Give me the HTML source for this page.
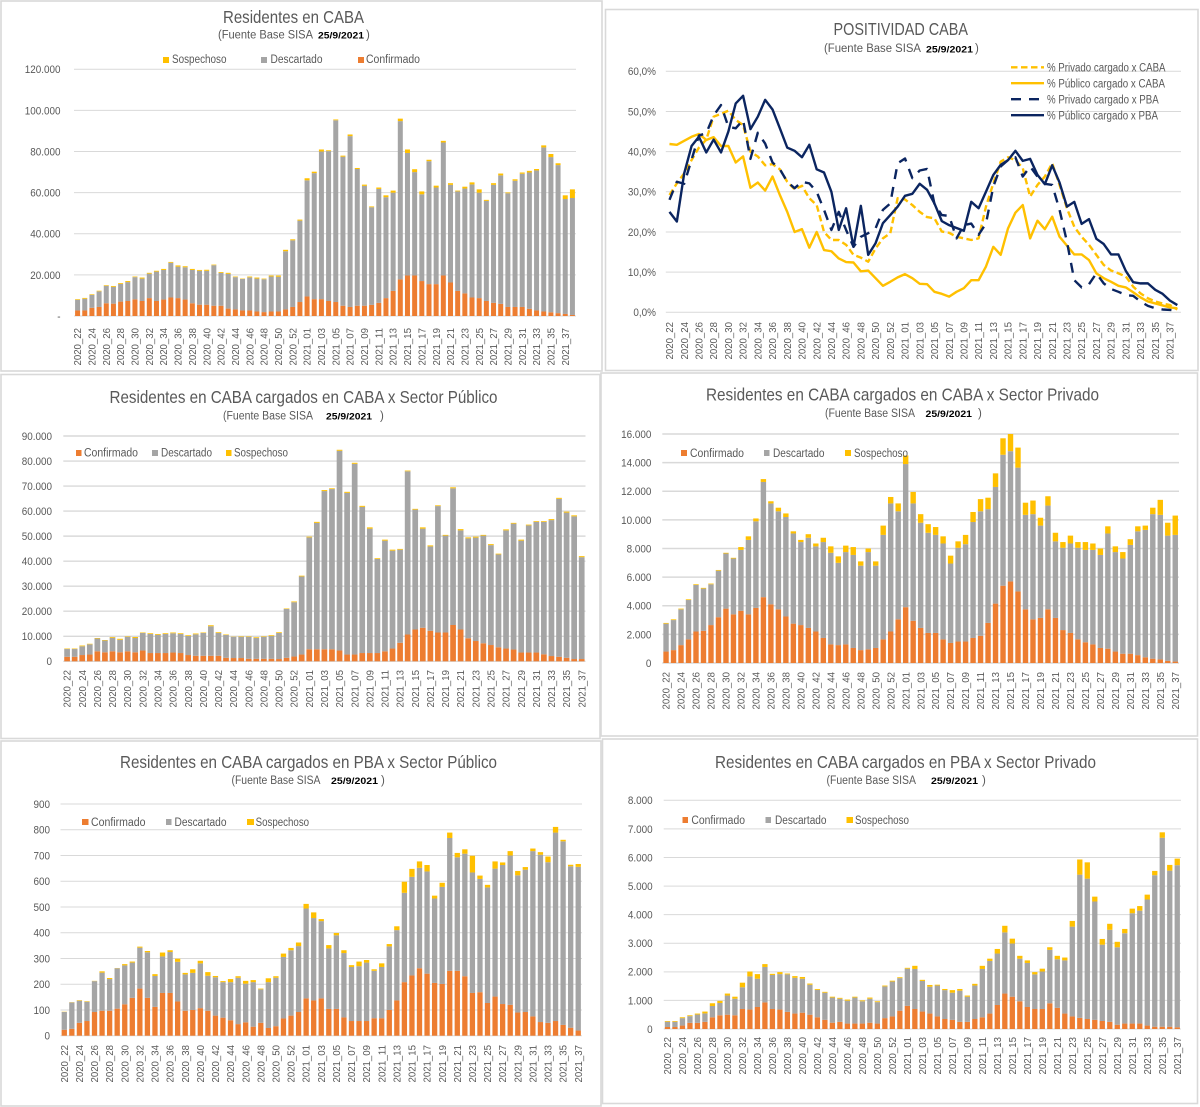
<!DOCTYPE html>
<html lang="es">
<head>
<meta charset="utf-8">
<title>Residentes en CABA - Fuente Base SISA</title>
<style>
html,body{margin:0;padding:0;background:#fff;}
body{width:1200px;height:1107px;overflow:hidden;}
svg{display:block;filter:blur(0.35px);font-family:"Liberation Sans",sans-serif;}
.panel{fill:#fff;stroke:#d9d9d9;stroke-width:1.6;}
.title{fill:#595959;font-size:17.5px;}
.sub{fill:#595959;font-size:11.5px;}
.date{fill:#000;font-size:9.5px;font-weight:bold;}
.leg{fill:#595959;font-size:11.5px;}
.tick{fill:#595959;font-size:11px;}
.xt{fill:#595959;font-size:10.5px;}
</style>
</head>
<body>
<svg id="dashboard" xmlns="http://www.w3.org/2000/svg" width="1200" height="1107" viewBox="0 0 1200 1107">
  <rect class="panel" x="1" y="1" width="601" height="370"/>
  <rect class="panel" x="605.5" y="9.5" width="592.5" height="361"/>
  <rect class="panel" x="1" y="374.5" width="599" height="364"/>
  <rect class="panel" x="601" y="373" width="596.5" height="363"/>
  <rect class="panel" x="1" y="741" width="600" height="365"/>
  <rect class="panel" x="602.5" y="739" width="595" height="364.5"/>

  <g id="plots"></g>

  <!-- Chart 1 -->
  <g>
    <text class="title" x="223" y="23" textLength="141" lengthAdjust="spacingAndGlyphs">Residentes en CABA</text>
    <text class="sub" x="218" y="38.5" textLength="95" lengthAdjust="spacingAndGlyphs">(Fuente  Base SISA</text>
    <text class="date" x="318" y="38.5" textLength="46" lengthAdjust="spacingAndGlyphs">25/9/2021</text>
    <text class="sub" x="366" y="38.5">)</text>
  </g>
  <g>
    <rect x="163" y="57" width="6" height="6" fill="#ffc000"/>
    <text class="leg" x="172" y="63" textLength="54.5" lengthAdjust="spacingAndGlyphs">Sospechoso</text>
    <rect x="261" y="57" width="6" height="6" fill="#a5a5a5"/>
    <text class="leg" x="270.5" y="63" textLength="52" lengthAdjust="spacingAndGlyphs">Descartado</text>
    <rect x="358" y="57" width="6" height="6" fill="#ed7d31"/>
    <text class="leg" x="366" y="63" textLength="54" lengthAdjust="spacingAndGlyphs">Confirmado</text>
  </g>

  <!-- Chart 2 -->
  <g>
    <text class="title" x="833.5" y="35" textLength="134.5" lengthAdjust="spacingAndGlyphs">POSITIVIDAD CABA</text>
    <text class="sub" x="824" y="52" textLength="97" lengthAdjust="spacingAndGlyphs">(Fuente Base SISA</text>
    <text class="date" x="926" y="52.5" textLength="47" lengthAdjust="spacingAndGlyphs">25/9/2021</text>
    <text class="sub" x="975" y="52">)</text>
  </g>
  <g>
    <line x1="1011" x2="1044" y1="67.3" y2="67.3" stroke="#ffc000" stroke-width="2.4" stroke-dasharray="6.5 3.5"/>
    <text class="leg" x="1047" y="71.3" textLength="118.5" lengthAdjust="spacingAndGlyphs">% Privado cargado x CABA</text>
    <line x1="1011" x2="1044" y1="83.2" y2="83.2" stroke="#ffc000" stroke-width="2.4"/>
    <text class="leg" x="1047" y="87.3" textLength="118" lengthAdjust="spacingAndGlyphs">% Público cargado x CABA</text>
    <line x1="1011" x2="1044" y1="99.2" y2="99.2" stroke="#0b2560" stroke-width="2.4" stroke-dasharray="10 8"/>
    <text class="leg" x="1047" y="103.3" textLength="111.7" lengthAdjust="spacingAndGlyphs">% Privado cargado x PBA</text>
    <line x1="1011" x2="1044" y1="115.2" y2="115.2" stroke="#0b2560" stroke-width="2.4"/>
    <text class="leg" x="1047" y="119.3" textLength="111" lengthAdjust="spacingAndGlyphs">% Público cargado x PBA</text>
  </g>

  <!-- Chart 3 -->
  <g>
    <text class="title" x="109.5" y="403" textLength="388" lengthAdjust="spacingAndGlyphs">Residentes en CABA cargados en CABA x Sector Público</text>
    <text class="sub" x="223" y="419.5" textLength="90" lengthAdjust="spacingAndGlyphs">(Fuente  Base SISA</text>
    <text class="date" x="326" y="419.5" textLength="46" lengthAdjust="spacingAndGlyphs">25/9/2021</text>
    <text class="sub" x="380" y="419.5">)</text>
  </g>
  <g>
    <rect x="76" y="450" width="5.5" height="6" fill="#ed7d31"/>
    <text class="leg" x="84" y="456.7" textLength="54" lengthAdjust="spacingAndGlyphs">Confirmado</text>
    <rect x="152" y="450" width="6" height="6" fill="#a5a5a5"/>
    <text class="leg" x="161" y="456.7" textLength="51" lengthAdjust="spacingAndGlyphs">Descartado</text>
    <rect x="226" y="450" width="5.5" height="6" fill="#ffc000"/>
    <text class="leg" x="234" y="456.7" textLength="54" lengthAdjust="spacingAndGlyphs">Sospechoso</text>
  </g>

  <!-- Chart 4 -->
  <g>
    <text class="title" x="706" y="400.5" textLength="393" lengthAdjust="spacingAndGlyphs">Residentes en CABA cargados en CABA x Sector Privado</text>
    <text class="sub" x="825" y="417" textLength="90" lengthAdjust="spacingAndGlyphs">(Fuente  Base SISA</text>
    <text class="date" x="925.5" y="417" textLength="46.5" lengthAdjust="spacingAndGlyphs">25/9/2021</text>
    <text class="sub" x="978" y="417">)</text>
  </g>
  <g>
    <rect x="681" y="450" width="6" height="6" fill="#ed7d31"/>
    <text class="leg" x="690" y="457" textLength="54" lengthAdjust="spacingAndGlyphs">Confirmado</text>
    <rect x="764" y="450" width="5.5" height="6" fill="#a5a5a5"/>
    <text class="leg" x="773" y="457" textLength="51.5" lengthAdjust="spacingAndGlyphs">Descartado</text>
    <rect x="845" y="450" width="6" height="6" fill="#ffc000"/>
    <text class="leg" x="854" y="457" textLength="54" lengthAdjust="spacingAndGlyphs">Sospechoso</text>
  </g>

  <!-- Chart 5 -->
  <g>
    <text class="title" x="120" y="768" textLength="377" lengthAdjust="spacingAndGlyphs">Residentes en CABA cargados en PBA x Sector Público</text>
    <text class="sub" x="231.5" y="784" textLength="89" lengthAdjust="spacingAndGlyphs">(Fuente  Base SISA</text>
    <text class="date" x="331" y="784" textLength="47" lengthAdjust="spacingAndGlyphs">25/9/2021</text>
    <text class="sub" x="381" y="784">)</text>
  </g>
  <g>
    <rect x="82" y="819" width="6.5" height="6" fill="#ed7d31"/>
    <text class="leg" x="91" y="826" textLength="54.5" lengthAdjust="spacingAndGlyphs">Confirmado</text>
    <rect x="166" y="819" width="5.5" height="6" fill="#a5a5a5"/>
    <text class="leg" x="174.5" y="826" textLength="52" lengthAdjust="spacingAndGlyphs">Descartado</text>
    <rect x="247" y="819" width="7" height="6" fill="#ffc000"/>
    <text class="leg" x="255.6" y="826" textLength="53.5" lengthAdjust="spacingAndGlyphs">Sospechoso</text>
  </g>

  <!-- Chart 6 -->
  <g>
    <text class="title" x="715" y="768" textLength="381" lengthAdjust="spacingAndGlyphs">Residentes en CABA cargados en PBA x Sector Privado</text>
    <text class="sub" x="826.5" y="784" textLength="89.5" lengthAdjust="spacingAndGlyphs">(Fuente  Base SISA</text>
    <text class="date" x="931" y="784" textLength="47" lengthAdjust="spacingAndGlyphs">25/9/2021</text>
    <text class="sub" x="982" y="784">)</text>
  </g>
  <g>
    <rect x="682.5" y="817" width="5.5" height="6" fill="#ed7d31"/>
    <text class="leg" x="691.4" y="824" textLength="53.6" lengthAdjust="spacingAndGlyphs">Confirmado</text>
    <rect x="765.5" y="817" width="5.5" height="6" fill="#a5a5a5"/>
    <text class="leg" x="775" y="824" textLength="51.5" lengthAdjust="spacingAndGlyphs">Descartado</text>
    <rect x="846.5" y="817" width="6.5" height="6" fill="#ffc000"/>
    <text class="leg" x="855" y="824" textLength="54" lengthAdjust="spacingAndGlyphs">Sospechoso</text>
  </g>
</svg>

<script>
// Categories (epidemiological weeks)
var weeks = ["2020_22","2020_23","2020_24","2020_25","2020_26","2020_27","2020_28","2020_29","2020_30","2020_31","2020_32","2020_33","2020_34","2020_35","2020_36","2020_37","2020_38","2020_39","2020_40","2020_41","2020_42","2020_43","2020_44","2020_45","2020_46","2020_47","2020_48","2020_49","2020_50","2020_51","2020_52","2020_53","2021_01","2021_02","2021_03","2021_04","2021_05","2021_06","2021_07","2021_08","2021_09","2021_10","2021_11","2021_12","2021_13","2021_14","2021_15","2021_16","2021_17","2021_18","2021_19","2021_20","2021_21","2021_22","2021_23","2021_24","2021_25","2021_26","2021_27","2021_28","2021_29","2021_30","2021_31","2021_32","2021_33","2021_34","2021_35","2021_36","2021_37","2021_38"];

// Chart 1: Residentes en CABA (thousands)
var c1Confirmado = [2.7,2.7,4,4.4,6.2,6,7,7.3,8.1,7.3, 8.7,7.3,8,9,8.7,8,6.2,5.5,5.5,5, 5,3.6,3.2,2.7,2.7,2.2,1.9,2.2,2.2,3.2, 4.4,6.8,9.5,8.2,8.2,7.3,6.8,5,4.4,5, 5,5.4,6.4,8.7,12.2,17.8,19.7,19.7,17,15.5, 15.5,19.7,16.3,12.2,11,9,8.7,7.3,6.4,5.9, 4.4,4.4,4.4,3.5,2.7,2.2,1.8,1.4,1,0.5];
var c1Descartado = [5.2,5.7,6.3,7.6,8.5,8.2,8.6,9.2,10.8,10.9, 11.9,14.3,14.4,16.9,15.3,15.7,16.2,16.5,16.5,19.7, 16,16.9,15.7,15.3,16.1,16,16,17,16.9,28.3, 32.4,39.6,56.5,61.3,71.8,72.9,88.4,72.5,83.1,66.5, 58.3,47.5,55.4,49.1,47.8,77,59.6,50.3,42.2,59.8, 47,64.7,47.5,48.4,51,55,51.3,48.7,57.4,62.5, 55.3,61.4,64.8,66.3,68.1,79.8,75.5,72,55.9,56.9];
var c1Sospechoso = [.3,.4,.3,.3,.3,.4,.4,.5,.3,.5, .4,.4,.5,.4,.6,.5,.5,.4,.5,.3, .4,.5,.3,.2,.4,.5,.3,.5,.6,.7, .5,.5,1,.7,1,.4,.4,.5,.8,.5, .6,.4,.7,.9,1,1.2,1.7,1.4,1.4,.7, .9,.8,.8,.4,.9,1,1.6,.5,.8,.9, .4,.7,.6,.8,.7,1,1.5,.9,1.8,4.2];
var c1TickLabels = ["-","20.000","40.000","60.000","80.000","100.000","120.000"];
var c1TickValues = [0,20,40,60,80,100,120];

// Chart 2: Positividad (percent)
var privadoCaba = [29.2,32.1,34.6,37.9,41,43,48.7,49.4,50.2,47.9, 46.6,40,38.8,36.6,36.9,35.6,32.5,30.6,31.5,28.4, 26.7,20,18,18,16.8,14.3,13.6,12.6,15.9,18.4, 19.7,28.4,28.1,26.7,25,23.7,23.4,20.1,19.8,18.8, 18.4,18,18.4,26.3,32.1,37.5,38.6,37.9,35.9,28.8, 31.7,33.8,37.1,31.7,25.9,21.3,18.8,16.8,14.3,11.8, 10.4,9.7,8.9,6.4,4.7,3.5,2.7,2.2,1.8,0.7];
var publicoCaba = [41.9,41.7,42.7,43.7,44.4,42.9,43.6,41.4,41.4,37.3, 38.8,31,32.3,30.3,33.8,29.2,25,20,20.7,16.1, 20,15.5,15.2,13.4,12.5,12.4,10.2,10.4,8.5,6.6, 7.6,8.7,9.5,8.5,7.1,7,5.1,4.6,3.9,5.1, 6,8,8,11.4,16.3,14.3,20.9,24.8,26.7,18.4, 22.8,20.7,23.8,18.8,16.6,14.4,14.4,13,9.7,8.5, 7.6,6.6,6.2,5,3.7,2.7,2.2,1.7,1.2,1];
var privadoPba = [28,32.5,32,38,44,44.6,49,51.6,46.2,45.8, 47.9,38.2,44.7,42,37.3,35.6,32.5,30.9,32.5,32.1, 30,25.5,20.5,25,20.5,16.3,18.8,19.7,20.9,25.5, 27.1,37.1,38.3,33.4,35.3,35.7,27,24.2,24,18.4, 21.7,22.1,19.3,22.1,31.3,36.3,37.9,38.6,33.8,36.3, 33.8,32,31.7,25.5,17.6,8,6.2,7,9.7,7.2, 5.8,5.1,4.3,4.1,2.7,1.6,1,0.7,0.6,0.4];
var publicoPba = [25,22.6,34.6,41.4,43.7,39.8,43,39.8,45,52, 53.9,45.6,48.7,52.9,50.5,45.8,41,40.2,38.6,41.7, 35.6,34.8,30,20.5,25.9,16.3,26.5,14.3,17.2,22.2, 24.2,26.3,29,29.5,32,30.5,27.1,22.7,21.7,21, 20.3,27.5,25.9,30,34.2,36.7,37.9,40.2,37.7,38.2, 34.2,31.9,36.6,32.3,26.3,27.5,22,23.2,18.3,17, 14.4,14.4,10.3,7.5,7.2,7.2,5.6,4.6,2.9,1.8];
var c2TickLabels = ["0,0%","10,0%","20,0%","30,0%","40,0%","50,0%","60,0%"];
var c2TickValues = [0,10,20,30,40,50,60];

// Chart 3: CABA x Sector Público (thousands)
var c3Confirmado = [1.8,1.8,2.5,2.7,4,3.6,4,3.6,4,3.6, 4.3,3.3,3.3,3.3,3.5,3.3,2.5,2.2,2.2,2.2, 2.2,1.4,1.3,1.3,1,1,1,1,.9,1.4, 1.9,2.7,4.8,4.8,4.8,4.8,4.3,2.7,2.7,3.3, 3.3,3.3,4,5.1,7.4,10.7,12.7,13.4,12.2,11.5, 11.5,14.5,12.7,9.2,8.1,7.2,6.5,5.6,5.1,4.7, 3.5,3.5,3.5,2.8,2.1,1.8,1.4,.9,.9];
var c3Descartado = [3.1,3.1,3.5,4.1,5.1,4.7,5.4,5,5.8,5.7, 7,7.6,7.3,7.6,7.7,7.6,7.6,8.6,9.1,11.8, 9.1,9.1,8.5,8.5,8.8,8.3,8.8,9.1,10.4,19.5, 21.7,31.2,44.7,50.5,63.2,64,79.8,64.6,76.2,58.4, 49.7,37.6,44.2,39.1,37.2,65.2,47.9,39.6,33.7,50.5, 38.7,54.6,39.6,39.9,41.3,43,39.9,37.1,47.2,50.3, 44.7,50.8,52.2,52.9,54.3,63.1,58,57,40.7];
var c3Sospechoso = [.2,.2,.3,.2,.2,.2,.3,.4,.2,.4, .2,.3,.3,.3,.3,.3,.3,.3,.2,.4, .3,.2,.1,.2,.2,.3,.2,.3,.3,.2, .3,.3,.3,.4,.4,.3,.4,.4,.4,.4, .5,.3,.4,.4,.3,.3,.3,.5,.4,.3, .3,.4,.5,.4,.4,.3,.4,.3,.4,.3, .4,.3,.3,.3,.4,.4,.4,.4,.4];
var c3TickLabels = ["0","10.000","20.000","30.000","40.000","50.000","60.000","70.000","80.000","90.000"];
var c3TickValues = [0,10,20,30,40,50,60,70,80,90];

// Chart 4: CABA x Sector Privado (thousands)
var c4Confirmado = [.8,.9,1.25,1.65,2.2,2.25,2.65,3.2,3.8,3.4, 3.65,3.4,3.85,4.6,4.1,3.75,3.25,2.75,2.65,2.45, 2.2,1.75,1.3,1.25,1.3,1.05,.9,.95,1.05,1.65, 2.2,3.05,3.9,2.95,2.45,2.1,2.1,1.65,1.4,1.5, 1.5,1.75,1.9,2.8,4.15,5.4,5.7,5,3.75,3.05, 3.15,3.75,3.15,2.3,2.1,1.65,1.45,1.3,1.05,1, .8,.65,.65,.55,.4,.3,.25,.15,.1];
var c4Descartado = [1.95,2.1,2.5,2.75,3.25,2.95,2.85,3.25,3.85,3.9, 4.25,5.2,6.05,8.05,7.05,6.85,6.95,6.3,5.8,6.3, 5.95,6.7,6.4,5.75,6.45,6.5,5.9,6.8,5.75,7.3, 8.95,7.55,10,8.2,7.35,7,6.85,6.7,5.55,6.55, 6.8,8.1,8.7,7.95,8.15,9.15,9.1,8.65,6.6,7.35, 6.45,7.25,5.35,5.75,6.25,6.4,6.45,6.6,6.5,8.05, 6.95,6.65,7.6,8.65,8.9,10.1,10.1,8.75,8.85];
var c4Sospechoso = [.05,.05,.05,.05,.05,.05,.05,.05,.05,.05, .2,.25,.2,.2,.15,.25,.25,.15,.15,.25, .2,.3,.45,.45,.45,.55,.3,.25,.3,.65, .45,.55,.6,.8,.6,.6,.55,.5,.55,.45, .65,.7,.85,.8,.95,1.15,1.2,1.4,.85,.95, .55,.65,.6,.4,.55,.4,.55,.45,.45,.5, .4,.45,.4,.35,.3,.45,1.05,.9,1.35];
var c4TickLabels = ["0","2.000","4.000","6.000","8.000","10.000","12.000","14.000","16.000"];
var c4TickValues = [0,2,4,6,8,10,12,14,16];

// Chart 5: PBA x Sector Público
var c5Confirmado = [23,27,50,57,92,97,97,105,122,147, 183,147,112,166,166,133,97,100,107,97, 78,70,60,45,52,35,50,30,37,67, 78,92,145,137,145,104,104,71,57,57, 57,68,68,100,137,208,234,262,241,205, 201,252,252,231,166,169,127,152,123,120, 90,92,75,53,50,57,42,31,20];
var c5Descartado = [69,102,86,75,120,148,123,157,151,137, 159,177,120,142,159,154,141,144,174,136, 149,138,148,180,150,173,130,178,188,239, 254,256,349,320,300,235,286,250,210,213, 227,184,199,247,273,347,383,390,397,328, 377,516,441,476,468,440,449,497,540,580, 533,553,642,650,624,732,713,627,636];
var c5Sospechoso = [1,1,2,2,1,5,4,1,5,4, 4,5,7,15,7,12,6,14,10,14, 5,4,12,6,11,8,3,15,6,13, 9,14,18,22,8,13,9,11,7,18, 10,6,14,9,15,43,31,25,25,11, 16,21,17,17,65,13,10,28,10,17, 17,10,10,10,22,22,6,6,11];
var c5TickLabels = ["0","100","200","300","400","500","600","700","800","900"];
var c5TickValues = [0,100,200,300,400,500,600,700,800,900];

// Chart 6: PBA x Sector Privado
var c6Confirmado = [70,70,120,215,215,250,410,480,500,480, 700,680,770,930,700,680,600,540,570,500, 410,320,220,250,190,190,190,220,190,380, 440,640,810,700,610,540,440,350,320,250, 250,350,410,540,840,1240,1130,970,770,700, 700,900,740,540,440,390,350,320,280,250, 150,190,190,190,120,80,80,80,60];
var c6Descartado = [185,185,260,235,290,295,395,430,670,580, 760,1160,990,1240,1190,1240,1310,1250,1190,1050, 960,950,880,810,800,910,780,840,750,1110, 1220,1140,1300,1400,1070,940,1080,1010,950,1090, 880,1170,1690,1840,1800,2140,1860,1490,1540,1210, 1310,1870,1700,1860,3140,5010,4910,4140,2670,3220, 2710,3160,3860,3950,4410,5300,6610,5460,5670];
var c6Sospechoso = [25,25,30,30,35,65,95,75,70,70, 160,170,160,100,40,70,30,60,60,40, 30,30,30,30,40,30,30,40,30,30, 30,30,30,110,40,60,30,40,90,60, 40,60,110,80,160,230,170,100,90,80, 100,90,120,100,200,530,570,170,200,210, 190,150,160,160,170,150,190,200,230];
var c6TickLabels = ["0","1.000","2.000","3.000","4.000","5.000","6.000","7.000","8.000"];
var c6TickValues = [0,1000,2000,3000,4000,5000,6000,7000,8000];

var NS = "http://www.w3.org/2000/svg";
var plots = document.getElementById("plots");

function node(tag, parent) {
  var el = document.createElementNS(NS, tag);
  parent.appendChild(el);
  return el;
}

// Builds x and y axis functions for a plot frame
function makeScales(f, n, maxV) {
  var step = (f.right - f.left) / n;
  return {
    step: step,
    x: function (i) { return f.left + (i + 0.5) * step; },
    y: function (v) { return f.base - (v / maxV) * (f.base - f.top); }
  };
}

function drawAxes(g, f, s, cats, tickValues, tickLabels) {
  tickValues.forEach(function (v, k) {
    var line = node("line", g);
    
    
    line.setAttribute("x1", f.left);
    line.setAttribute("x2", f.right);
    line.setAttribute("y1", s.y(v));
    line.setAttribute("y2", s.y(v));
    line.setAttribute("stroke", "#d9d9d9");
    line.setAttribute("stroke-width", f.grid);
    var t = node("text", g);
    
    
    t.setAttribute("class", "tick");
    t.setAttribute("x", f.tickX);
    t.setAttribute("y", s.y(v) + 3.9);
    t.setAttribute("text-anchor", "end");
    t.textContent = tickLabels[k];
    t.setAttribute("lengthAdjust", "spacingAndGlyphs");
    t.setAttribute("textLength", (t.getComputedTextLength() * 0.9).toFixed(2));
  });
  cats.forEach(function (c, i) {
    if (i % 2 !== 0) return;
    var t = node("text", g);
    
    
    t.setAttribute("class", "xt");
    var lx = s.x(i) + 3.6;
    t.setAttribute("x", lx);
    t.setAttribute("y", f.labelTop);
    t.setAttribute("text-anchor", "end");
    t.setAttribute("transform", "rotate(-90 " + lx + " " + f.labelTop + ")");
    t.setAttribute("lengthAdjust", "spacingAndGlyphs");
    t.setAttribute("textLength", "37.5");
    t.textContent = c;
  });
}

function drawStacked(name, f, cats, confirmado, descartado, sospechoso, maxV, tickValues, tickLabels) {
  var g = node("g", plots);
  
  
  var s = makeScales(f, cats.length, maxV);
  drawAxes(g, f, s, cats, tickValues, tickLabels);
  var colors = ["#ed7d31", "#a5a5a5", "#ffc000"];
  cats.forEach(function (c, i) {
    var acc = 0;
    [confirmado[i], descartado[i], sospechoso[i]].forEach(function (v, k) {
      var r = node("rect", g);
      
      
      r.setAttribute("x", s.x(i) - f.bar / 2);
      r.setAttribute("width", f.bar);
      r.setAttribute("y", s.y(acc + v));
      r.setAttribute("height", s.y(acc) - s.y(acc + v));
      r.setAttribute("fill", colors[k]);
      acc += v;
    });
  });
}

function drawLine(g, s, values, color, dash) {
  var d = values.map(function (v, i) {
    return (i ? "L" : "M") + s.x(i).toFixed(2) + " " + s.y(v).toFixed(2);
  }).join(" ");
  var p = node("path", g);
  
  
  p.setAttribute("d", d);
  p.setAttribute("fill", "none");
  p.setAttribute("stroke", color);
  p.setAttribute("stroke-width", "2.4");
  p.setAttribute("stroke-linejoin", "round");
  if (dash) p.setAttribute("stroke-dasharray", dash);
}

drawStacked("chart-residentes-caba",
  {left: 74, right: 576, top: 69.3, base: 316, tickX: 60.5, labelTop: 328, bar: 5, grid: 1},
  weeks, c1Confirmado, c1Descartado, c1Sospechoso, 120, c1TickValues, c1TickLabels);

(function () {
  var f = {left: 665.8, right: 1181, top: 71.3, base: 312.3, tickX: 656, labelTop: 322, grid: 1};
  var g = node("g", plots);
  
  
  var s = makeScales(f, weeks.length, 60);
  drawAxes(g, f, s, weeks, c2TickValues, c2TickLabels);
  drawLine(g, s, privadoCaba, "#ffc000", "6.5 3.5");
  drawLine(g, s, publicoCaba, "#ffc000", null);
  drawLine(g, s, privadoPba, "#0b2560", "10 8");
  drawLine(g, s, publicoPba, "#0b2560", null);
})();

var weeks69 = weeks.slice(0, 69);

drawStacked("chart-caba-publico",
  {left: 63.3, right: 585.5, top: 436, base: 661.3, tickX: 52, labelTop: 670, bar: 5.7, grid: 1.4},
  weeks69, c3Confirmado, c3Descartado, c3Sospechoso, 90, c3TickValues, c3TickLabels);

drawStacked("chart-caba-privado",
  {left: 662.3, right: 1179, top: 434, base: 663, tickX: 651.4, labelTop: 672, bar: 5.4, grid: 1.4},
  weeks69, c4Confirmado, c4Descartado, c4Sospechoso, 16, c4TickValues, c4TickLabels);

drawStacked("chart-pba-publico",
  {left: 60.5, right: 582, top: 804, base: 1035.7, tickX: 50, labelTop: 1045, bar: 5.3, grid: 1},
  weeks69, c5Confirmado, c5Descartado, c5Sospechoso, 900, c5TickValues, c5TickLabels);

drawStacked("chart-pba-privado",
  {left: 663.7, right: 1181, top: 800.3, base: 1029, tickX: 652.6, labelTop: 1037, bar: 5.3, grid: 1},
  weeks69, c6Confirmado, c6Descartado, c6Sospechoso, 8000, c6TickValues, c6TickLabels);
</script>
</body>
</html>
